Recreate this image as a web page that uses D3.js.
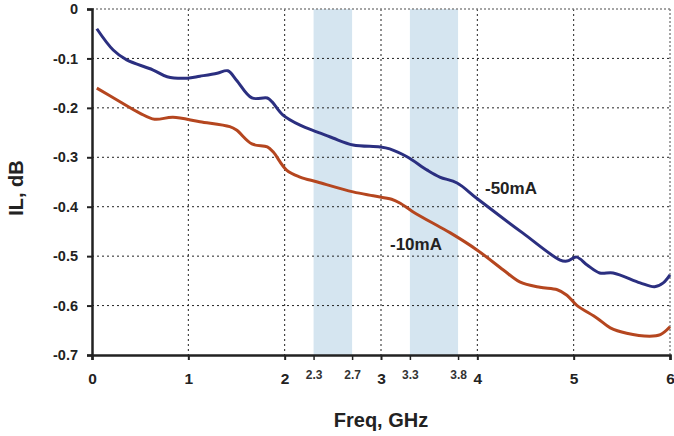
<!DOCTYPE html>
<html><head><meta charset="utf-8">
<script src="https://cdn.jsdelivr.net/npm/d3@7"></script>
<style>body{margin:0;background:#fff;} text{font-family:"Liberation Sans",Arial,sans-serif;font-weight:bold;}</style>
</head><body><svg id="c" width="674" height="436"></svg>
<script>
const freq50 = [0.05,0.22,0.36,0.63,0.78,0.99,1.12,1.30,1.41,1.50,1.66,1.82,1.87,1.98,2.16,2.34,2.50,2.71,2.99,3.09,3.27,3.48,3.61,3.79,4.0,4.47,4.86,4.93,5.03,5.14,5.27,5.41,5.69,5.84,5.93,6.0];
const il50 = [-0.040,-0.083,-0.103,-0.123,-0.137,-0.140,-0.136,-0.130,-0.125,-0.144,-0.180,-0.180,-0.188,-0.214,-0.235,-0.249,-0.261,-0.275,-0.279,-0.283,-0.299,-0.326,-0.340,-0.352,-0.384,-0.453,-0.508,-0.510,-0.502,-0.518,-0.534,-0.534,-0.554,-0.562,-0.554,-0.538];
const freq10 = [0.05,0.26,0.50,0.65,0.84,1.12,1.43,1.50,1.66,1.82,1.88,2.02,2.16,2.34,2.71,2.92,3.11,3.20,3.33,3.61,3.72,4.0,4.27,4.44,4.65,4.83,4.93,5.03,5.24,5.38,5.55,5.79,5.90,6.0];
const il10 = [-0.160,-0.184,-0.211,-0.223,-0.219,-0.228,-0.238,-0.245,-0.273,-0.279,-0.289,-0.326,-0.340,-0.350,-0.370,-0.378,-0.385,-0.393,-0.410,-0.441,-0.453,-0.488,-0.528,-0.552,-0.563,-0.568,-0.579,-0.599,-0.625,-0.645,-0.656,-0.662,-0.659,-0.643];
const bands = [[2.3,2.7],[3.3,3.8]];
const xMajor = [0,1,2,3,4,5,6];
const xMinor = [2.3,2.7,3.3,3.8];
const yTicks = [0,-0.1,-0.2,-0.3,-0.4,-0.5,-0.6,-0.7];
const seriesLabels = ["-50mA","-10mA"];

const svg = d3.select("#c");
const L=92,R=670,T=9,B=355;
const x = d3.scaleLinear().domain([0,6]).range([L,R]);
const y = d3.scaleLinear().domain([-0.7,0]).range([B,T]);

svg.selectAll("rect.band").data(bands).enter().append("rect")
  .attr("x",d=>x(d[0])).attr("width",d=>x(d[1])-x(d[0]))
  .attr("y",T).attr("height",B-T).attr("fill","#d5e5f0");

const g = svg.append("g");
g.selectAll("line.vg").data(xMajor.slice(1,6)).enter().append("line")
  .attr("x1",d=>x(d)).attr("x2",d=>x(d)).attr("y1",T).attr("y2",B)
  .attr("stroke","#222").attr("stroke-width",1).attr("stroke-dasharray","2,3");
g.selectAll("line.hg").data(yTicks.slice(1,7)).enter().append("line")
  .attr("x1",L).attr("x2",R).attr("y1",d=>y(d)).attr("y2",d=>y(d))
  .attr("stroke","#222").attr("stroke-width",1).attr("stroke-dasharray","2,3");
g.append("line").attr("x1",L).attr("x2",R).attr("y1",T).attr("y2",T).attr("stroke","#888").attr("stroke-width",1.5).attr("stroke-dasharray","2,2");
g.append("line").attr("x1",R).attr("x2",R).attr("y1",T).attr("y2",B).attr("stroke","#888").attr("stroke-width",1.5).attr("stroke-dasharray","2,2");

const line = d3.line().x(d=>x(d[0])).y(d=>y(d[1])).curve(d3.curveCatmullRom.alpha(0.5));
svg.append("path").datum(d3.zip(freq10,il10)).attr("d",line).attr("fill","none").attr("stroke","#b5461f").attr("stroke-width",3);
svg.append("path").datum(d3.zip(freq50,il50)).attr("d",line).attr("fill","none").attr("stroke","#2b2f80").attr("stroke-width",3);

const yAxis = d3.axisLeft(y).tickValues(yTicks).tickSize(5).tickPadding(9)
  .tickFormat(d=>d===0?"0":d3.format(".1f")(d).replace("−","-"));
const ya = svg.append("g").attr("transform",`translate(${L},0)`).call(yAxis);
ya.select(".domain").attr("stroke","#222").attr("stroke-width",2.5);
ya.selectAll(".tick line").attr("stroke","#222").attr("stroke-width",2);
ya.selectAll("text").attr("font-size",14.5).attr("fill","#222");

const xAxis = d3.axisBottom(x).tickValues(xMajor).tickSize(5).tickPadding(13).tickFormat(d3.format("d"));
const xa = svg.append("g").attr("transform",`translate(0,${B})`).call(xAxis);
xa.select(".domain").attr("stroke","#222").attr("stroke-width",2.5);
xa.selectAll(".tick line").attr("stroke","#222").attr("stroke-width",2);
xa.selectAll("text").attr("font-size",15.5).attr("fill","#222");

const xAxis2 = d3.axisBottom(x).tickValues(xMinor).tickSize(5).tickPadding(10).tickFormat(d3.format(".1f"));
const xb = svg.append("g").attr("transform",`translate(0,${B})`).call(xAxis2);
xb.select(".domain").remove();
xb.selectAll(".tick line").attr("stroke","#222").attr("stroke-width",1.5);
xb.selectAll("text").attr("font-size",12).attr("fill","#333");

svg.append("text").attr("x",381).attr("y",427).attr("text-anchor","middle").attr("font-size",20).attr("fill","#222").text("Freq, GHz");
svg.append("text").attr("transform","translate(23,188) rotate(-90)").attr("text-anchor","middle").attr("font-size",20).attr("fill","#222").text("IL, dB");

svg.append("text").attr("x",485).attr("y",194).attr("font-size",17).attr("fill","#222").text(seriesLabels[0]);
svg.append("text").attr("x",390).attr("y",250).attr("font-size",17).attr("fill","#222").text(seriesLabels[1]);
</script></body></html>
